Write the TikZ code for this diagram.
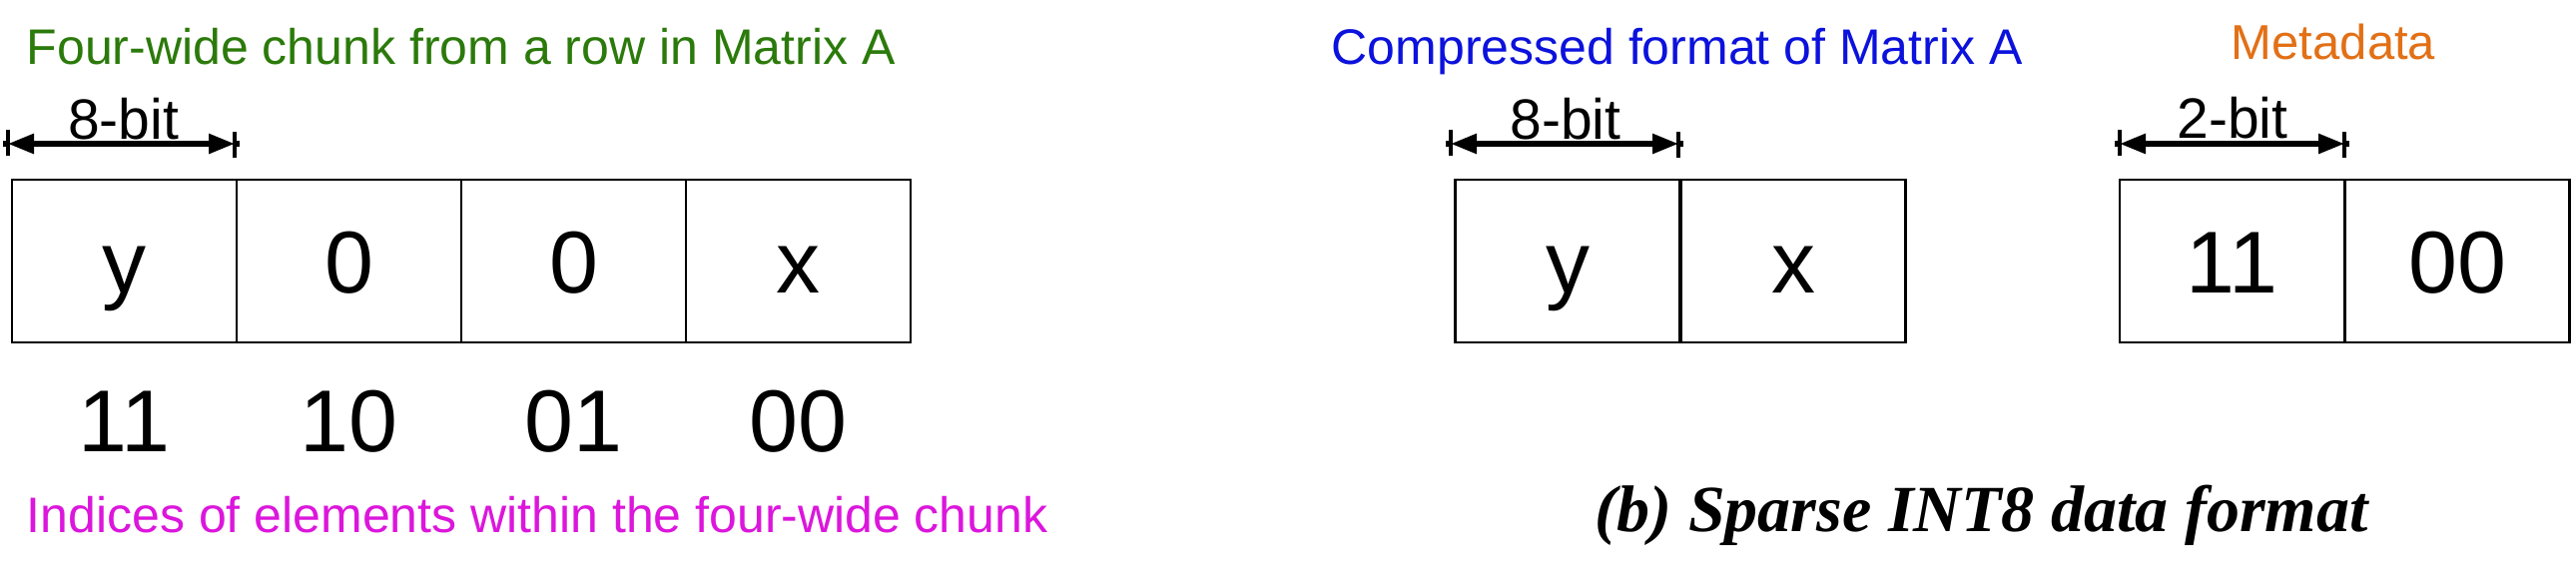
\documentclass[tikz,border=0pt]{standalone}
\usepackage{fontspec}
\setmainfont{Liberation Sans}
\newfontfamily\capfont{Liberation Serif}
\usetikzlibrary{arrows.meta}
\definecolor{tgreen}{RGB}{43,122,11}
\definecolor{tblue}{RGB}{12,18,220}
\definecolor{torange}{RGB}{226,112,22}
\definecolor{tmagenta}{RGB}{220,22,220}
\begin{document}
\begin{tikzpicture}[x=0.25pt,y=-0.25pt,
  cell/.style={draw,line width=0.6pt,minimum width=56.25pt,minimum height=40.75pt,
    inner sep=0pt,text height=16pt,text depth=0pt,font=\fontsize{22}{26}\selectfont},
  idx/.style={anchor=base,inner sep=0pt,font=\fontsize{22}{26}\selectfont},
  dimlabel/.style={anchor=base,inner sep=0pt,font=\fontsize{14.25}{17}\selectfont},
  heading/.style={anchor=base west,inner sep=0pt,font=\fontsize{12.5}{15}\selectfont},
  dimarrow/.style={line width=1.3pt,{Triangle[length=6.5pt,width=4.8pt]}-{Triangle[length=6.5pt,width=4.8pt]}},
  dimtick/.style={line width=1.1pt}]
\useasboundingbox (0,0) rectangle (2580,579);
\fill[white] (0,0) rectangle (2580,579);

% headings
\node[heading,text=tgreen] (t1) at (26,64) {Four-wide chunk from a row in Matrix A};
\node[heading,text=tblue] (t2) at (1333,64) {Compressed format of Matrix A};
\node[heading,text=torange,font=\fontsize{12.25}{15}\selectfont] (t3) at (2234,59) {Metadata};
\node[heading,text=tmagenta] (t4) at (26,533) {Indices of elements within the four-wide chunk};
\node[anchor=base west,inner sep=0pt,font=\capfont\bfseries\itshape\fontsize{16.5}{20}\selectfont] (cap) at (1597,532) {(b) Sparse INT8 data format};

% chunk of Matrix A
\node[cell] (a1) at (124.5,261.5) {y};
\node[cell] (a2) at (349.5,261.5) {0};
\node[cell] (a3) at (574.5,261.5) {0};
\node[cell] (a4) at (799.5,261.5) {x};
\node[idx] (i1) at (124.5,452) {11};
\node[idx] (i2) at (349.5,452) {10};
\node[idx] (i3) at (574.5,452) {01};
\node[idx] (i4) at (799.5,452) {00};

% compressed
\node[cell] (c1) at (1570,261.5) {y};
\node[cell] (c2) at (1796,261.5) {x};

% metadata
\node[cell] (m1) at (2235.5,261.5) {11};
\node[cell] (m2) at (2461,261.5) {00};

% dimension markers
\coordinate (d1a) at (8,144);
\coordinate (d1b) at (235,144);
\coordinate (d2a) at (1453,144);
\coordinate (d2b) at (1681,144);
\coordinate (d3a) at (2123,144);
\coordinate (d3b) at (2348,144);
\foreach \p in {d1,d2,d3}{
  \draw[dimarrow] (\p a) -- (\p b);
  \draw[line width=1.3pt] (\p a) -- ++(-5,0);
  \draw[line width=1.3pt] (\p b) -- ++(5,0);
  \draw[dimtick] (\p a) ++(0,-14) -- ++(0,26);
  \draw[dimtick] (\p b) ++(0,-12) -- ++(0,26);
}
\node[dimlabel] (l1) at (123.5,139) {8-bit};
\node[dimlabel] (l2) at (1568,139) {8-bit};
\node[dimlabel] (l3) at (2236,138) {2-bit};
\end{tikzpicture}
\end{document}
